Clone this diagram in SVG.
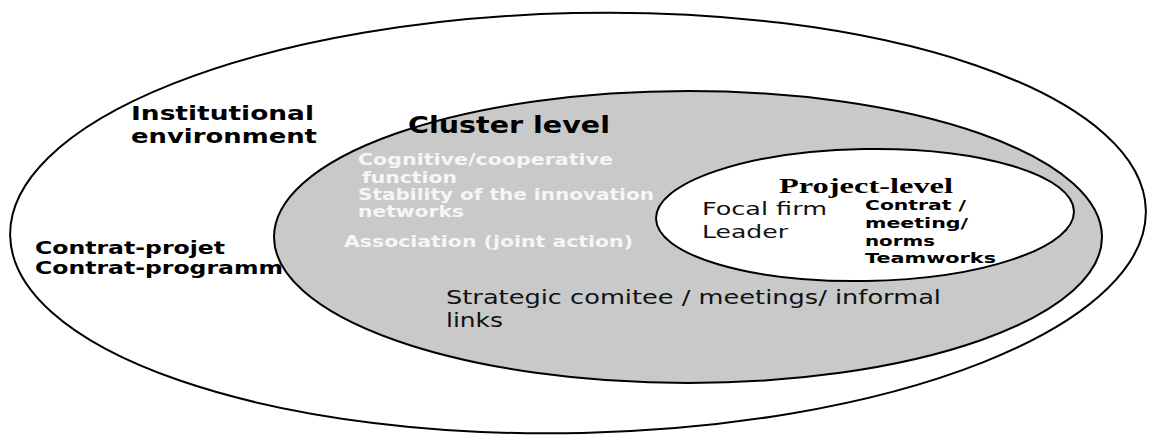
<svg xmlns="http://www.w3.org/2000/svg" width="1152" height="437" viewBox="0 0 1152 437">
  <style>
    .ring { stroke: #000; stroke-width: 2; }
    .bold { font-family: "DejaVu Sans", Verdana, sans-serif; font-weight: bold; fill: #000; }
    .light { font-family: "DejaVu Sans", Verdana, sans-serif; font-weight: bold; fill: #f6f6f6; }
    .plain { font-family: "DejaVu Sans", Verdana, sans-serif; font-weight: normal; fill: #111; }
    .serif { font-family: "Liberation Serif", "Times New Roman", serif; font-weight: bold; fill: #000; }
  </style>
  <rect width="1152" height="437" fill="#fff"/>

  <!-- outermost level: institutional environment -->
  <g id="institutional">
    <ellipse class="ring" cx="578" cy="223" rx="568" ry="210" fill="#fff" transform="rotate(-1.3 578 223)"/>
    <text class="bold" font-size="20" x="131" y="120" textLength="183" lengthAdjust="spacingAndGlyphs">Institutional</text>
    <text class="bold" font-size="20" x="131" y="143" textLength="186" lengthAdjust="spacingAndGlyphs">environment</text>
    <text class="bold" font-size="17" x="35" y="254" textLength="190" lengthAdjust="spacingAndGlyphs">Contrat-projet</text>
    <text class="bold" font-size="17" x="35" y="274" textLength="248" lengthAdjust="spacingAndGlyphs">Contrat-programm</text>
  </g>

  <!-- middle level: cluster -->
  <g id="cluster">
    <ellipse class="ring" cx="688" cy="237" rx="414" ry="146" fill="#c9c9c9"/>
    <text class="bold" font-size="23" x="408" y="133" textLength="202" lengthAdjust="spacingAndGlyphs">Cluster level</text>
    <text class="light" font-size="16" x="358" y="165" textLength="255" lengthAdjust="spacingAndGlyphs">Cognitive/cooperative</text>
    <text class="light" font-size="16" x="362" y="183" textLength="95" lengthAdjust="spacingAndGlyphs">function</text>
    <text class="light" font-size="16" x="358" y="200" textLength="296" lengthAdjust="spacingAndGlyphs">Stability of the innovation</text>
    <text class="light" font-size="16" x="358" y="217" textLength="106" lengthAdjust="spacingAndGlyphs">networks</text>
    <text class="light" font-size="16" x="344" y="247" textLength="289" lengthAdjust="spacingAndGlyphs">Association (joint action)</text>
    <text class="plain" font-size="19" x="446" y="304" textLength="495" lengthAdjust="spacingAndGlyphs">Strategic comitee / meetings/ informal</text>
    <text class="plain" font-size="19" x="446" y="327" textLength="57" lengthAdjust="spacingAndGlyphs">links</text>
  </g>

  <!-- inner level: project -->
  <g id="project">
    <ellipse class="ring" cx="865" cy="215" rx="209" ry="66" fill="#fff" transform="rotate(-1 865 215)"/>
    <text class="serif" font-size="21" x="779" y="193" textLength="174" lengthAdjust="spacingAndGlyphs">Project-level</text>
    <text class="plain" font-size="18" x="702" y="215" textLength="125" lengthAdjust="spacingAndGlyphs">Focal firm</text>
    <text class="plain" font-size="18" x="702" y="238" textLength="86" lengthAdjust="spacingAndGlyphs">Leader</text>
    <text class="bold" font-size="13.5" x="865" y="210" textLength="101" lengthAdjust="spacingAndGlyphs">Contrat /</text>
    <text class="bold" font-size="13.5" x="865" y="228" textLength="103" lengthAdjust="spacingAndGlyphs">meeting/</text>
    <text class="bold" font-size="13.5" x="865" y="246" textLength="70" lengthAdjust="spacingAndGlyphs">norms</text>
    <text class="bold" font-size="13.5" x="865" y="263" textLength="131" lengthAdjust="spacingAndGlyphs">Teamworks</text>
  </g>

  <g id="connectors"/>
</svg>
